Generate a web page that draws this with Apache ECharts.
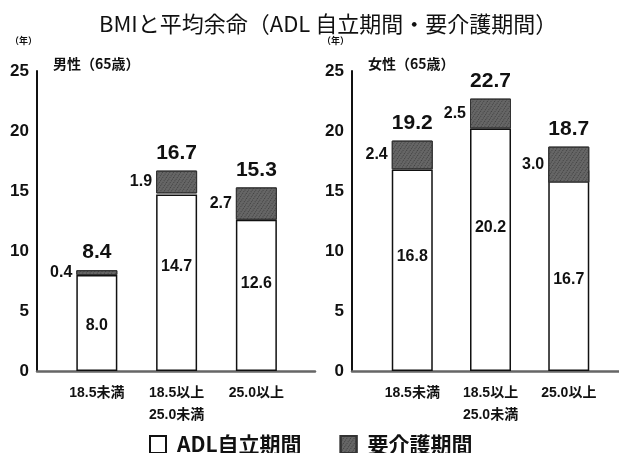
<!DOCTYPE html>
<html>
<head>
<meta charset="utf-8">
<script src="https://cdn.jsdelivr.net/npm/echarts@6/dist/echarts.min.js"></script>
<style>
  html, body { margin: 0; padding: 0; background: #fff; }
  #chart { width: 619px; height: 453px; }
</style>
</head>
<body>
<div id="chart"></div>
<script>
// BMI groups (65-year-olds) and remaining life expectancy, split into
// independent-ADL years and years needing care.
const categories = ['18.5未満', '18.5以上\n25.0未満', '25.0以上'];
const slots = [1, 2, 3];

const maleAdl = [8.0, 14.7, 12.6];
const maleCare = [0.4, 1.9, 2.7];
const maleTotal = [8.4, 16.7, 15.3];

const femaleAdl = [16.8, 20.2, 16.7];
const femaleCare = [2.4, 2.5, 3.0];
const femaleTotal = [19.2, 22.7, 18.7];

const yMax = 25;
const yStep = 5;

// vertical nudges (px) for the labels inside the white bars
const maleAdlShift = [3, -16, -12];
const femaleAdlShift = [-14, -22, 9];

const NUM_FONT = "'Liberation Sans Narrow', 'Arial Narrow', 'Liberation Sans', 'Noto Sans CJK JP', sans-serif";
const JP_FONT = "'Noto Sans CJK JP', sans-serif";
const CARE_COLOR = '#666666';
const careDecal = {
  symbol: 'rect',
  symbolSize: 1,
  color: 'rgba(25,25,25,0.5)',
  dashArrayX: [1, 2],
  dashArrayY: [1, 1],
  rotation: 0.6
};

function panelSeries(gi, adl, care, total, shift) {
  // value first, slot second; the value column is the one that gets stacked
  const pts = vals => vals.map((v, i) => [v, slots[i]]);
  const base = care.map((c, i) => Math.round((total[i] - c) * 10) / 10);
  const common = {
    type: 'bar', xAxisIndex: gi, yAxisIndex: gi, barWidth: 41, barGap: '-100%',
    encode: { x: 1, y: 0 }
  };
  return [
    Object.assign({}, common, {
      name: 'ADL自立期間',
      data: pts(adl),
      itemStyle: { color: '#fff', borderColor: '#111', borderWidth: 1.5 },
      label: {
        show: true, position: 'inside', color: '#111',
        fontFamily: NUM_FONT, fontWeight: 'bold', fontSize: 16,
        formatter: p => adl[p.dataIndex].toFixed(1)
      },
      labelLayout: p => ({ dy: shift[p.dataIndex] })
    }),
    Object.assign({}, common, {
      name: 'base' + gi,
      stack: 'care' + gi,
      silent: true,
      data: pts(base),
      itemStyle: { color: 'rgba(0,0,0,0)' }
    }),
    Object.assign({}, common, {
      name: '要介護期間',
      stack: 'care' + gi,
      data: pts(care),
      itemStyle: { color: CARE_COLOR, borderColor: '#333', borderWidth: 1, decal: careDecal },
      label: {
        show: true, position: 'left', distance: 4, color: '#111',
        fontFamily: NUM_FONT, fontWeight: 'bold', fontSize: 16,
        formatter: p => care[p.dataIndex].toFixed(1)
      }
    }),
    Object.assign({}, common, {
      name: 'total' + gi,
      silent: true,
      data: pts(total),
      itemStyle: { color: 'rgba(0,0,0,0)' },
      label: {
        show: true, position: 'top', distance: 7, color: '#111',
        fontFamily: NUM_FONT, fontWeight: 'bold', fontSize: 21,
        formatter: p => total[p.dataIndex].toFixed(1)
      }
    })
  ];
}

function xAxisFor(gi, min, max) {
  return {
    type: 'value', gridIndex: gi, min: min, max: max,
    axisLine: { show: true, lineStyle: { color: '#666', width: 2.5 } },
    axisTick: { show: false },
    splitLine: { show: false },
    axisLabel: {
      customValues: slots,
      margin: 11,
      color: '#111', fontFamily: NUM_FONT, fontWeight: 'bold', fontSize: 14, lineHeight: 22,
      formatter: v => categories[Math.round(v) - 1] || ''
    }
  };
}

function yAxisFor(gi) {
  return {
    type: 'value', gridIndex: gi, min: 0, max: yMax, interval: yStep,
    axisLine: { show: true, lineStyle: { color: '#111', width: 2 } },
    axisTick: { show: false },
    splitLine: { show: false },
    axisLabel: {
      margin: 8, padding: [0, 0, 9, 0],
      color: '#111', fontFamily: NUM_FONT, fontWeight: 'bold', fontSize: 17
    }
  };
}

const chart = echarts.init(document.getElementById('chart'), null, { renderer: 'canvas' });
chart.setOption({
  animation: false,
  backgroundColor: '#fff',
  title: {
    text: 'BMIと平均余命（ADL 自立期間・要介護期間）',
    left: 94, top: 8,
    textStyle: { fontFamily: JP_FONT, fontWeight: 'normal', fontSize: 22, color: '#111' }
  },
  legend: {
    data: ['ADL自立期間', '要介護期間'],
    left: 144, top: 429, icon: 'rect',
    itemWidth: 16, itemHeight: 17, itemGap: 38,
    textStyle: { fontFamily: JP_FONT, fontWeight: 'bold', fontSize: 21, color: '#111', padding: [0, 0, 0, 6] }
  },
  graphic: [
    { type: 'text', left: 10, top: 36, style: { text: '（年）', font: 'bold 9px ' + JP_FONT, fill: '#111' } },
    { type: 'text', left: 322, top: 36, style: { text: '（年）', font: 'bold 9px ' + JP_FONT, fill: '#111' } },
    { type: 'text', left: 53, top: 57, style: { text: '男性（65歳）', font: 'bold 14px ' + JP_FONT, fill: '#111' } },
    { type: 'text', left: 368, top: 57, style: { text: '女性（65歳）', font: 'bold 14px ' + JP_FONT, fill: '#111' } }
  ],
  grid: [
    { left: 37, top: 71, width: 278, height: 300 },
    { left: 352, top: 71, width: 267, height: 300 }
  ],
  xAxis: [xAxisFor(0, 0.25, 3.735), xAxisFor(1, 0.23, 3.642)],
  yAxis: [yAxisFor(0), yAxisFor(1)],
  series: panelSeries(0, maleAdl, maleCare, maleTotal, maleAdlShift)
    .concat(panelSeries(1, femaleAdl, femaleCare, femaleTotal, femaleAdlShift))
});
</script>
</body>
</html>
